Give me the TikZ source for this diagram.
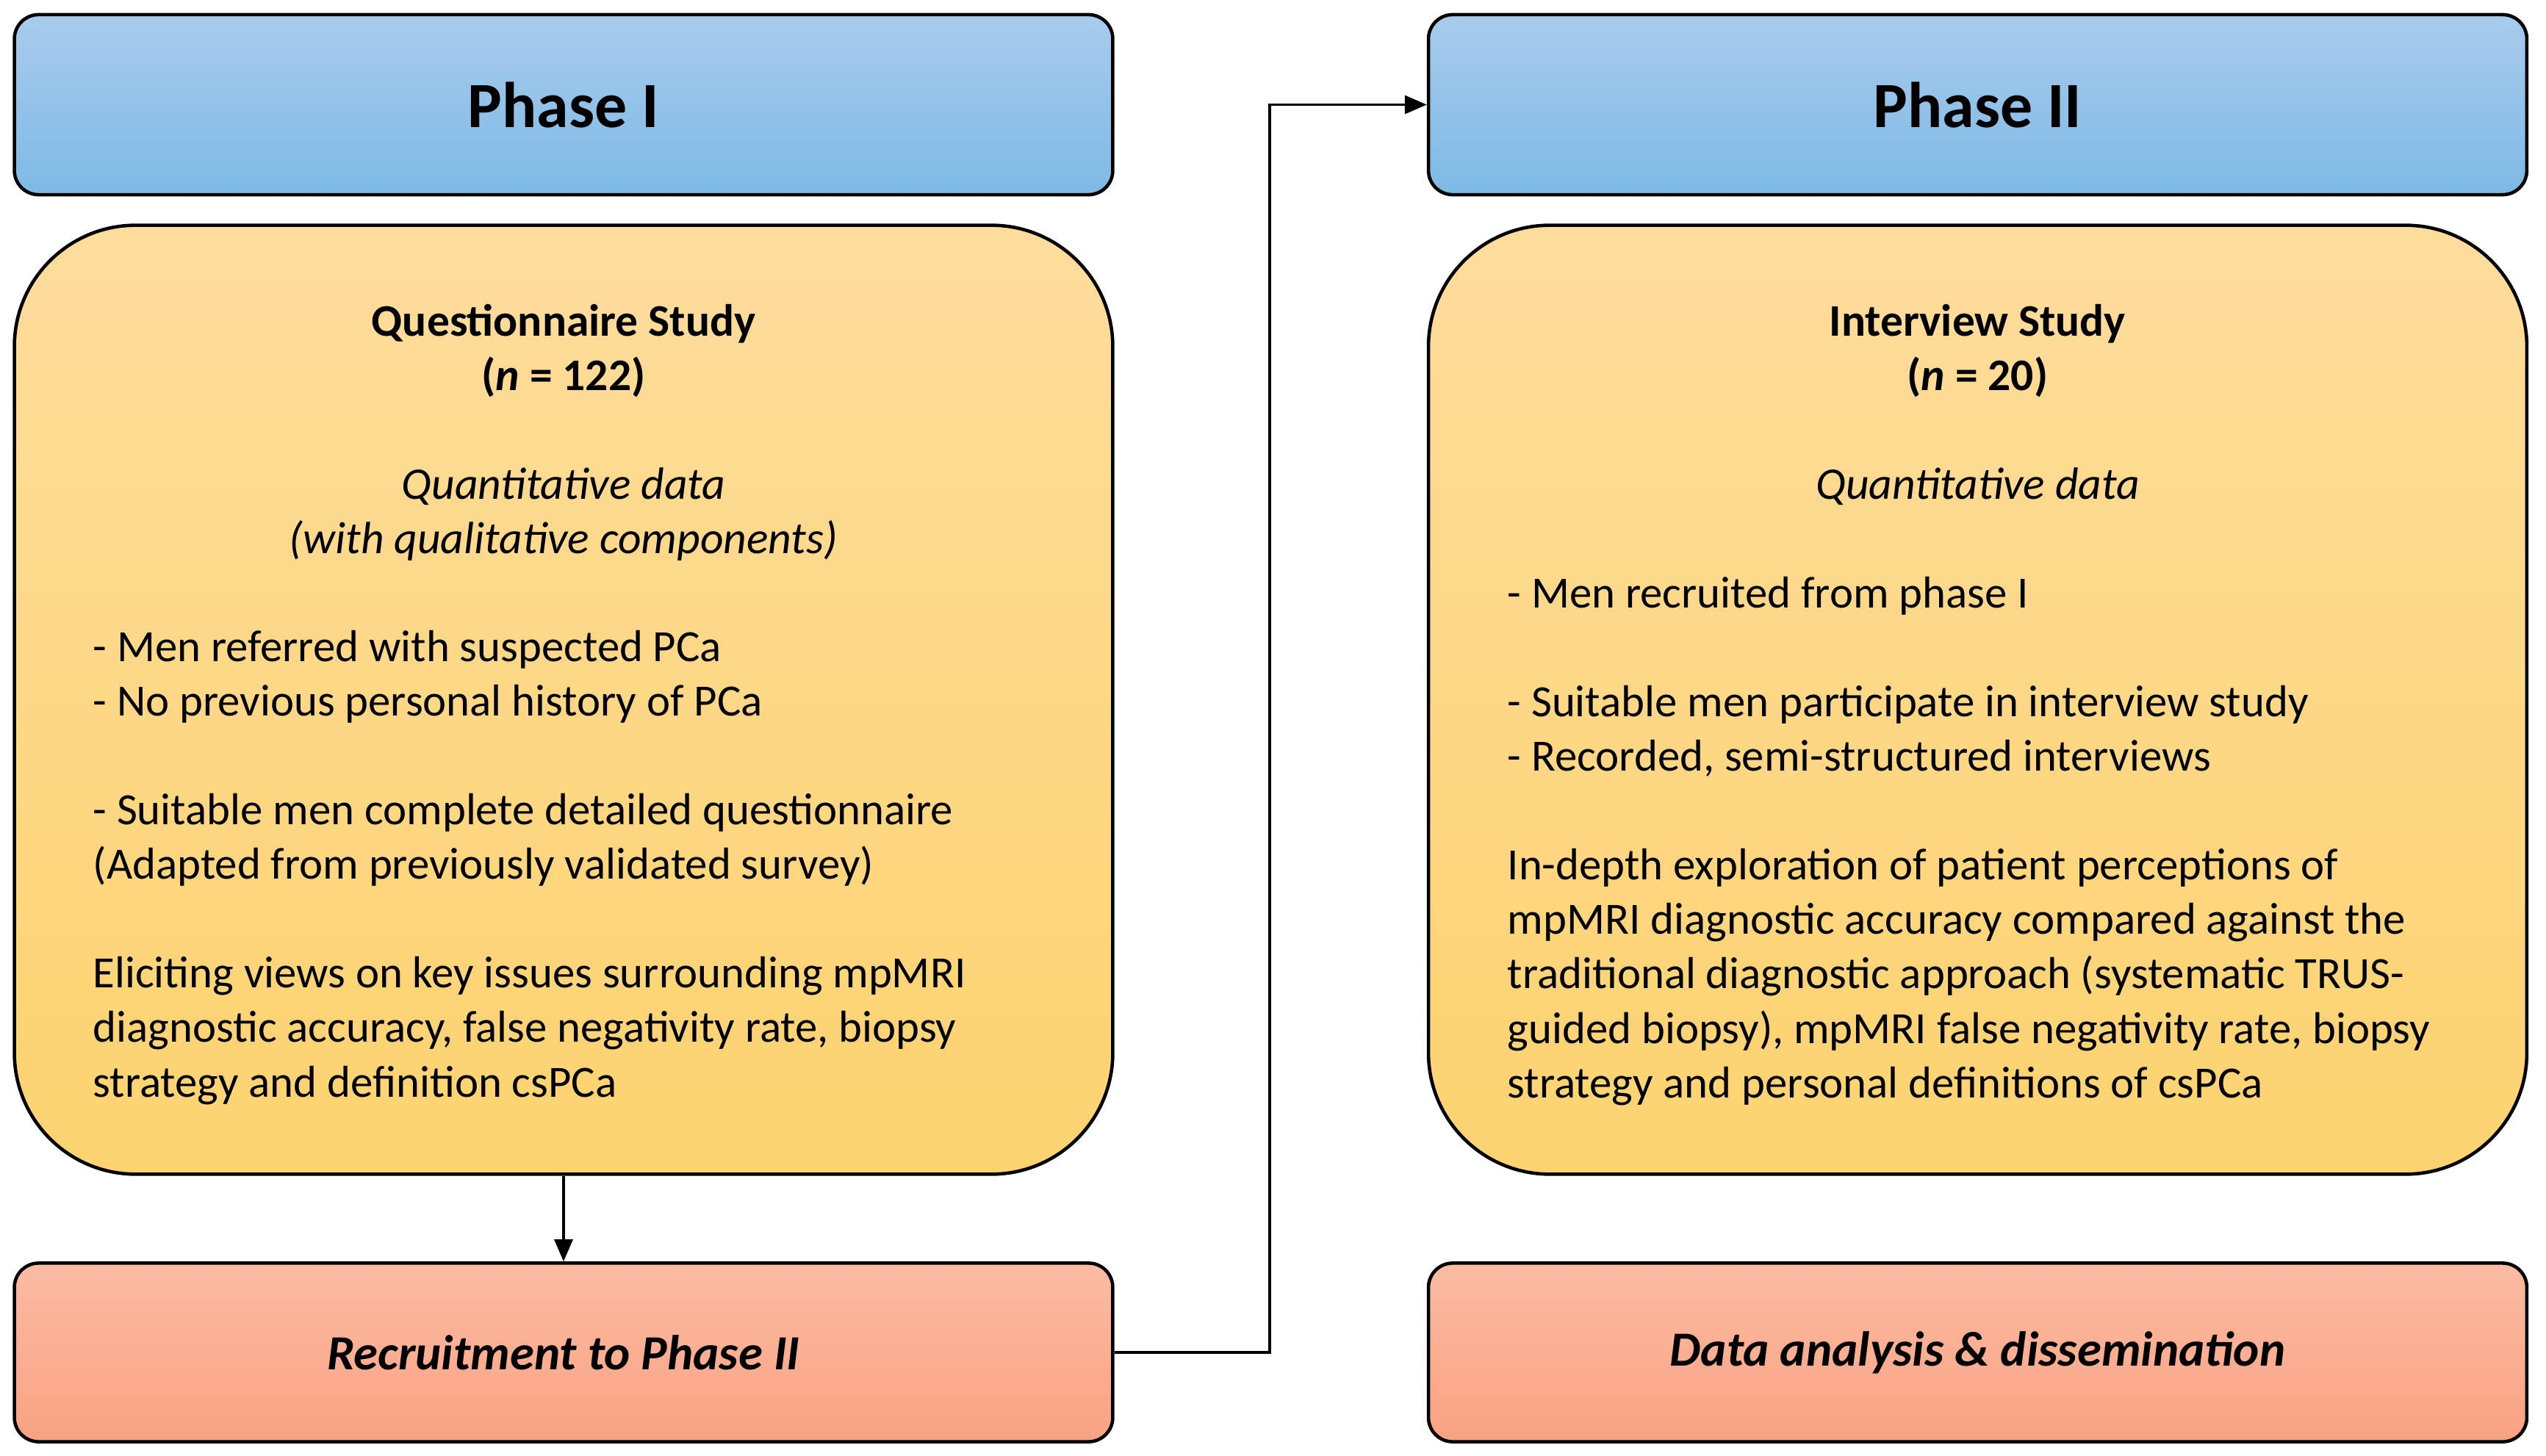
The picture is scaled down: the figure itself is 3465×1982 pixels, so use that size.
\documentclass[tikz,border=0pt]{standalone}
\usepackage{fontspec}
\setmainfont{Carlito}
\usetikzlibrary{arrows.meta}
\definecolor{blueT}{HTML}{A9CBEC}
\definecolor{blueB}{HTML}{7DB9E5}
\definecolor{yelT}{HTML}{FEDC9C}
\definecolor{yelB}{HTML}{FCD370}
\definecolor{redT}{HTML}{FBBBA3}
\definecolor{redB}{HTML}{F9A282}
\tikzset{
  phasebox/.style={draw, line width=1.3pt, rounded corners=0.33cm, top color=blueT, bottom color=blueB,
    minimum width=14.94cm, minimum height=2.45cm, inner sep=0pt,
    font=\fontsize{25}{30}\selectfont\bfseries},
  studybox/.style={draw, line width=1.3pt, rounded corners=1.65cm, top color=yelT, bottom color=yelB,
    minimum width=14.94cm, minimum height=12.91cm, inner sep=0pt},
  outbox/.style={draw, line width=1.3pt, rounded corners=0.33cm, top color=redT, bottom color=redB,
    minimum width=14.94cm, minimum height=2.43cm, inner sep=0pt,
    font=\fontsize{19}{23}\selectfont\bfseries\itshape},
  txt/.style={inner sep=0pt, font=\fontsize{17.5}{21.06}\selectfont},
  bodytxt/.style={inner sep=0pt, font=\fontsize{17.3}{21.06}\selectfont},
  conn/.style={line width=1pt, -{Triangle[length=0.3cm,width=0.25cm]}},
}
\begin{document}
\begin{tikzpicture}[x=0.01cm,y=-0.01cm]
\useasboundingbox (0,0) rectangle (3465,1982);
% boxes
\node[phasebox] (ph1) at (767,142.5) {Phase I};
\node[phasebox] (ph2) at (2691.5,142.5) {Phase II};
\node[studybox] (qs1) at (767,952.5) {};
\node[studybox] (qs2) at (2691.5,952.5) {};
\node[outbox] (rec) at (767,1841) {Recruitment to Phase II};
\node[outbox] (dat) at (2691.5,1841) {Data analysis \& dissemination};
% texts left
\node[txt, align=center, anchor=north] (h1) at (767,405) {\strut\textbf{Questionnaire Study}\\
  \textbf{(\textit{n} = 122)}\\[\baselineskip]
  \textit{Quantitative data}\\
  \textit{(with qualitative components)}};
\node[bodytxt, align=left, anchor=north west] (b1) at (126,848) {\strut- Men referred with suspected PCa\\
  - No previous personal history of PCa\\[\baselineskip]
  - Suitable men complete detailed questionnaire\\
  (Adapted from previously validated survey)\\[\baselineskip]
  Eliciting views on key issues surrounding mpMRI\\
  diagnostic accuracy, false negativity rate, biopsy\\
  strategy and definition csPCa};
% texts right
\node[txt, align=center, anchor=north] (h2) at (2691.5,405) {\strut\textbf{Interview Study}\\
  \textbf{(\textit{n} = 20)}\\[\baselineskip]
  \textit{Quantitative data}};
\node[bodytxt, align=left, anchor=north west] (b2) at (2051,775) {\strut- Men recruited from phase I\\[\baselineskip]
  - Suitable men participate in interview study\\
  - Recorded, semi-structured interviews\\[\baselineskip]
  In-depth exploration of patient perceptions of\\
  mpMRI diagnostic accuracy compared against the\\
  traditional diagnostic approach (systematic TRUS-\\
  guided biopsy), mpMRI false negativity rate, biopsy\\
  strategy and personal definitions of csPCa};
% connectors
\coordinate (bend) at (1728,1841);
\draw[conn] (qs1.south) -- (rec.north);
\draw[conn] (rec.east) -- (bend) |- (ph2.west);
\end{tikzpicture}
\end{document}
